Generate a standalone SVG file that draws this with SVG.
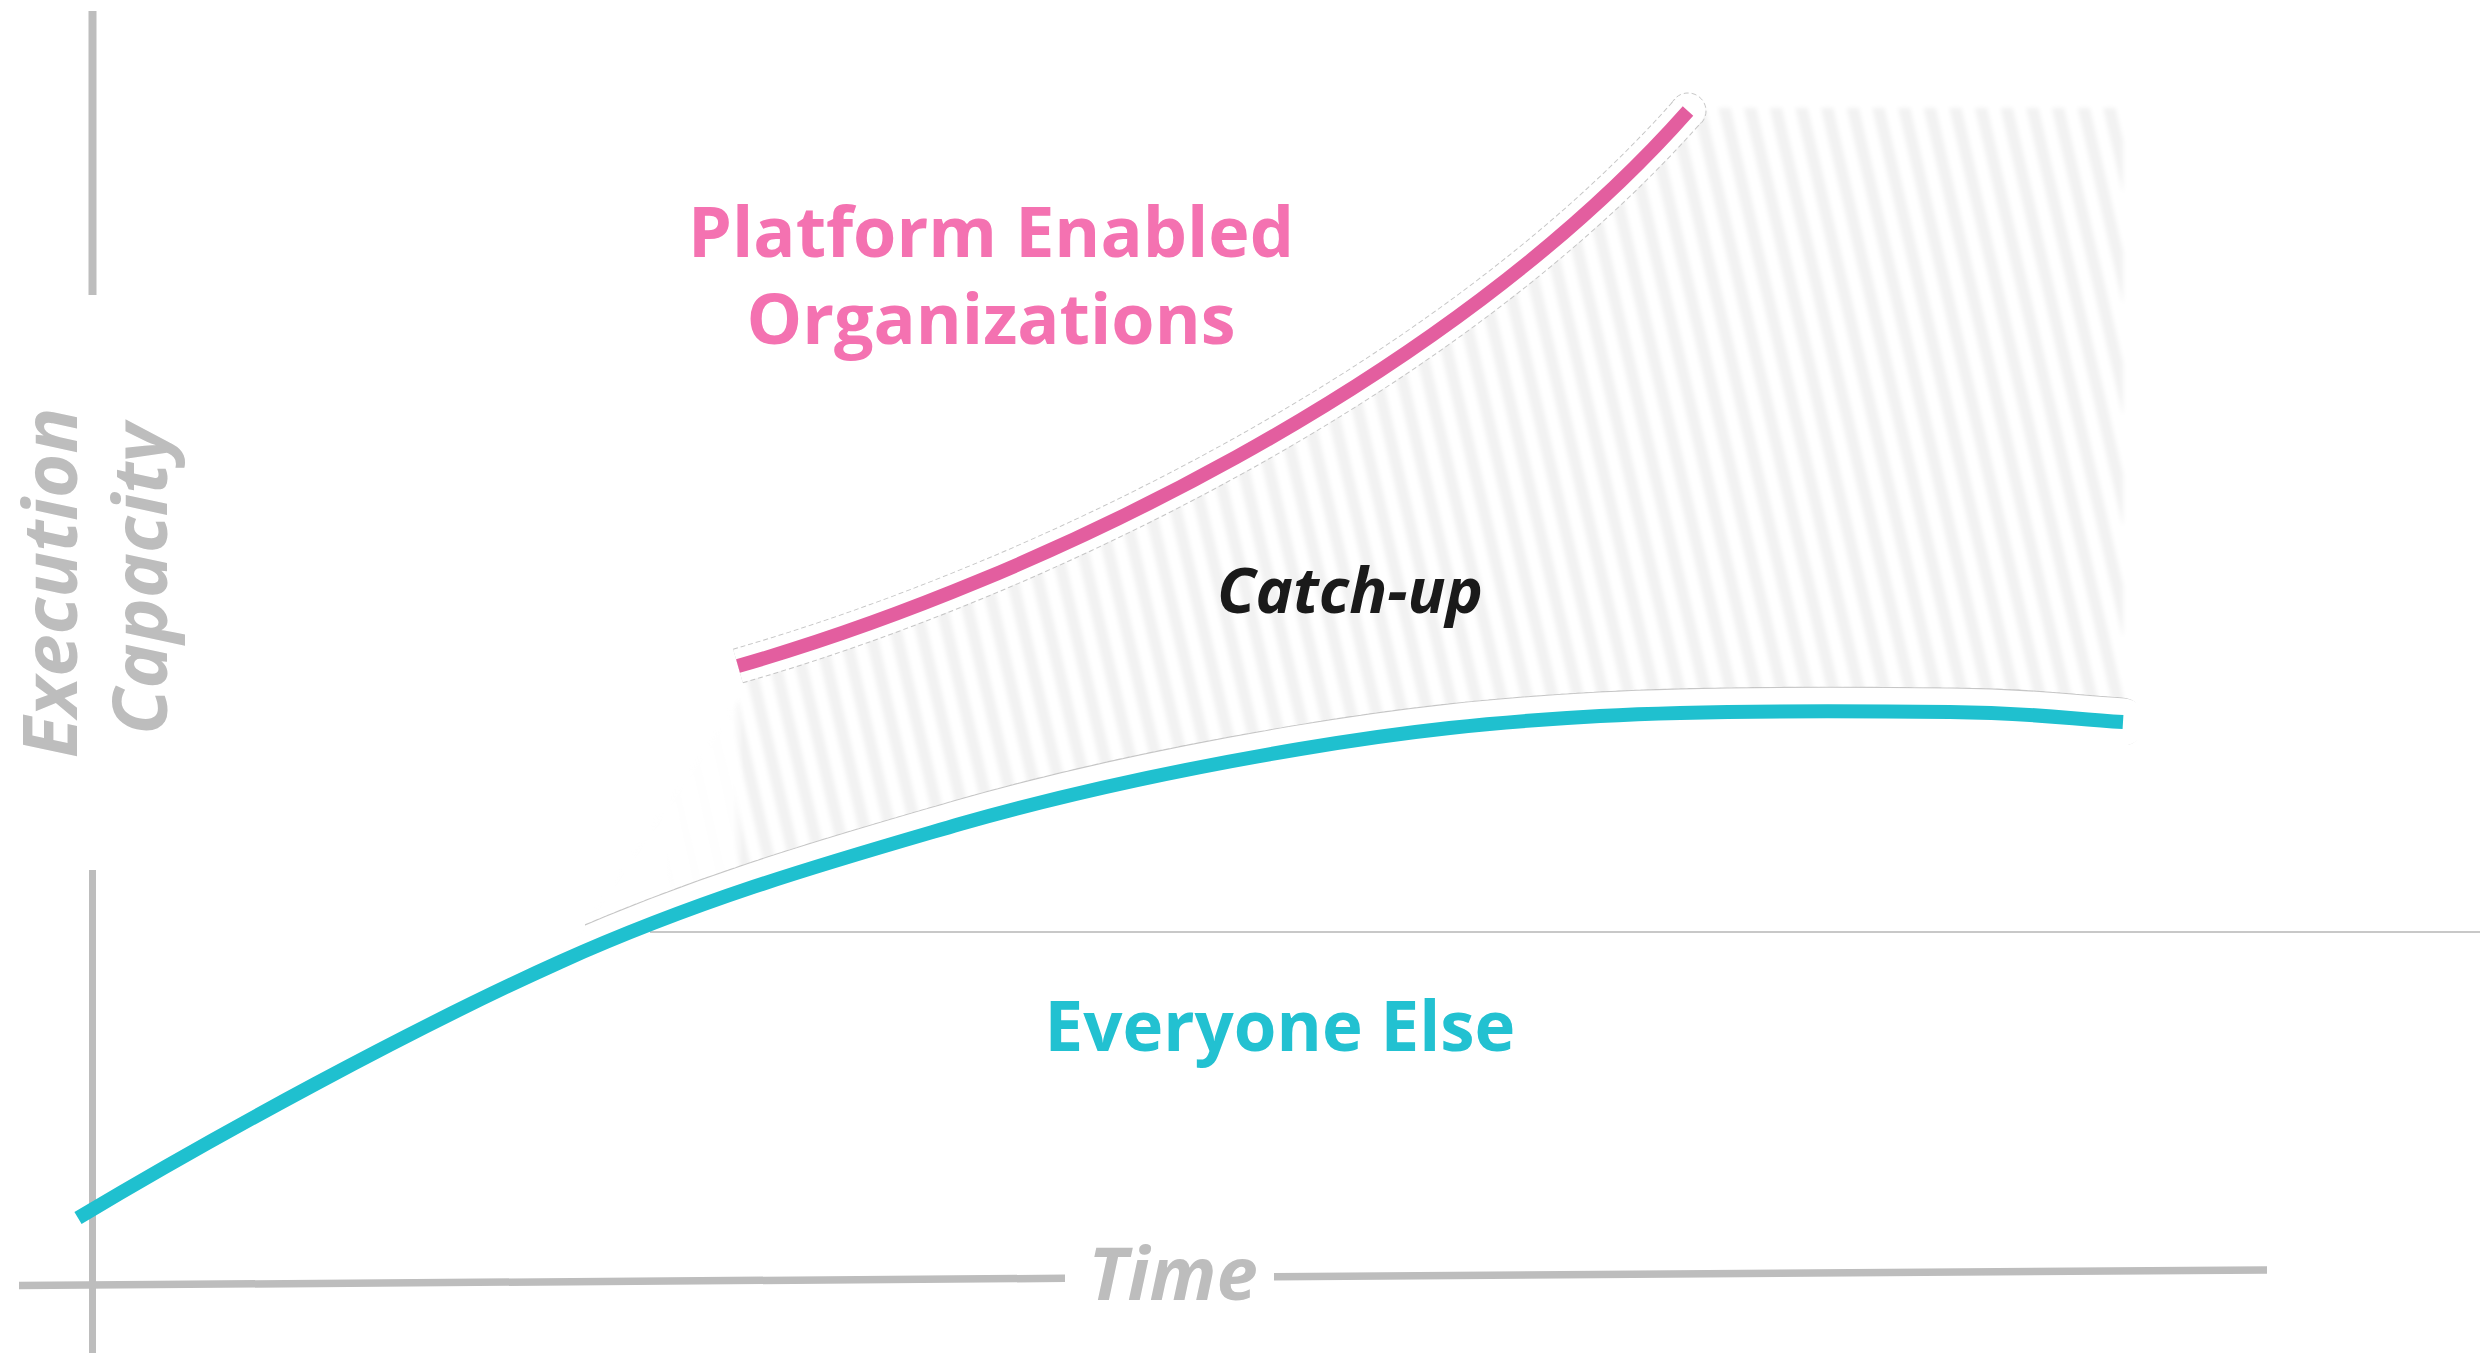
<svg xmlns="http://www.w3.org/2000/svg" width="2480" height="1353" viewBox="0 0 2480 1353">
<style>
.axis{stroke:#bdbdbd;fill:none;stroke-linecap:butt}
.axlabel{font-family:"Open Sans","Liberation Sans",sans-serif;font-weight:700;font-style:italic;fill:#bdbdbd}
.lbl{font-family:"Open Sans","Liberation Sans",sans-serif;font-weight:700}
.outline{fill:none;stroke:#c6c6c6;stroke-dasharray:5 3}
.halo{fill:none;stroke:#ffffff}
</style>
<defs>
<pattern id="hatch" patternUnits="userSpaceOnUse" width="25" height="25" patternTransform="rotate(-13)">
<rect width="25" height="25" fill="#ffffff"/>
<rect x="0" width="12" height="25" fill="#f2f2f2"/>
</pattern>
<linearGradient id="fadeL" gradientUnits="userSpaceOnUse" x1="560" y1="0" x2="2130" y2="0">
<stop offset="0" stop-color="#fff" stop-opacity="0"/>
<stop offset="0.11" stop-color="#fff" stop-opacity="0.06"/>
<stop offset="0.117" stop-color="#fff" stop-opacity="1"/>
<stop offset="1" stop-color="#fff" stop-opacity="1"/>
</linearGradient>
<mask id="hatchMask" maskUnits="userSpaceOnUse" x="0" y="0" width="2480" height="1353">
<rect x="0" y="0" width="2480" height="1353" fill="url(#fadeL)"/>
</mask>
<filter id="soft" x="-5%" y="-5%" width="110%" height="110%">
<feGaussianBlur stdDeviation="2"/>
</filter>
<clipPath id="aboveTeal">
<path d="M585,0 H2200 V745 H2123 V722 C2065,718.5 2037,713 1950,712 C1863,711 1708,710 1600,716 C1492,722 1407,731 1300,749 C1193,767 1083,789 960,824 C837,860 707,896 560,962 L585,962 Z"/>
</clipPath>
</defs>

<rect x="0" y="0" width="2480" height="1353" fill="#ffffff"/>

<g id="catchup-area" mask="url(#hatchMask)">
<path filter="url(#soft)" fill="url(#hatch)" d="M738,666 C1038,580 1450,380 1688,111 L1700,108 L2123,108 L2123,722 C2065,718.5 2037,713 1950,712 C1863,711 1708,710 1600,716 C1492,722 1407,731 1300,749 C1193,767 1083,789 960,824 C837,860 707,896 560,962 L738,700 Z"/>
</g>

<g id="halos">
<path class="outline" stroke-width="36" d="M738,666 C1038,580 1450,380 1688,111"/>
<circle class="outline" stroke-width="1" cx="1688" cy="111" r="18"/>
<path class="halo" stroke-width="34" d="M738,666 C1038,580 1450,380 1688,111"/>
<circle cx="1688" cy="111" r="17" fill="#ffffff"/>
<g clip-path="url(#aboveTeal)">
<path class="outline" stroke-width="49" stroke-linecap="round" d="M78,1218 C215,1136 413,1028 560,962 C707,896 837,860 960,824 C1083,789 1193,767 1300,749 C1407,731 1492,722 1600,716 C1708,710 1863,711 1950,712 C2037,713 2065,718.5 2123,722"/>
<path class="halo" stroke-width="47" stroke-linecap="round" d="M78,1218 C215,1136 413,1028 560,962 C707,896 837,860 960,824 C1083,789 1193,767 1300,749 C1407,731 1492,722 1600,716 C1708,710 1863,711 1950,712 C2037,713 2065,718.5 2123,722"/>
</g>
</g>

<g id="axes">
<line class="axis" x1="92.5" y1="11" x2="92.5" y2="295" stroke-width="8"/>
<line class="axis" x1="92.5" y1="870" x2="92.5" y2="1353" stroke-width="7"/>
<line class="axis" x1="19" y1="1285.5" x2="1065" y2="1278.3" stroke-width="7.5"/>
<line class="axis" x1="1274" y1="1276.8" x2="2267" y2="1270" stroke-width="7.5"/>
<line x1="650" y1="932" x2="2480" y2="932" stroke="#c8c8c8" stroke-width="2"/>
</g>

<g id="connectors">
<path id="platform-curve" d="M738,666 C1038,580 1450,380 1688,111" fill="none" stroke="#e35e9f" stroke-width="14"/>
<path id="everyone-curve" d="M78,1218 C215,1136 413,1028 560,962 C707,896 837,860 960,824 C1083,789 1193,767 1300,749 C1407,731 1492,722 1600,716 C1708,710 1863,711 1950,712 C2037,713 2065,718.5 2123,722" fill="none" stroke="#1fc0cf" stroke-width="14"/>
</g>

<g id="label-platform">
<text class="lbl" x="991" y="257" font-size="70" text-anchor="middle" fill="#f472b1">Platform Enabled</text>
<text class="lbl" x="991" y="344" font-size="70" text-anchor="middle" fill="#f472b1">Organizations</text>
</g>
<g id="label-everyone">
<text class="lbl" x="1280" y="1051" font-size="69" text-anchor="middle" fill="#22c1d1">Everyone Else</text>
</g>
<g id="label-catchup">
<text class="lbl" x="1350" y="613" font-size="63" font-style="italic" text-anchor="middle" fill="#1a1a1a">Catch-up</text>
</g>
<g id="label-y">
<text class="axlabel" transform="translate(77,583) rotate(-90)" font-size="76" text-anchor="middle">Execution</text>
<text class="axlabel" transform="translate(167,579) rotate(-90)" font-size="76" text-anchor="middle">Capacity</text>
</g>
<g id="label-x">
<text class="axlabel" x="1173" y="1300" font-size="74" text-anchor="middle">Time</text>
</g>
</svg>
